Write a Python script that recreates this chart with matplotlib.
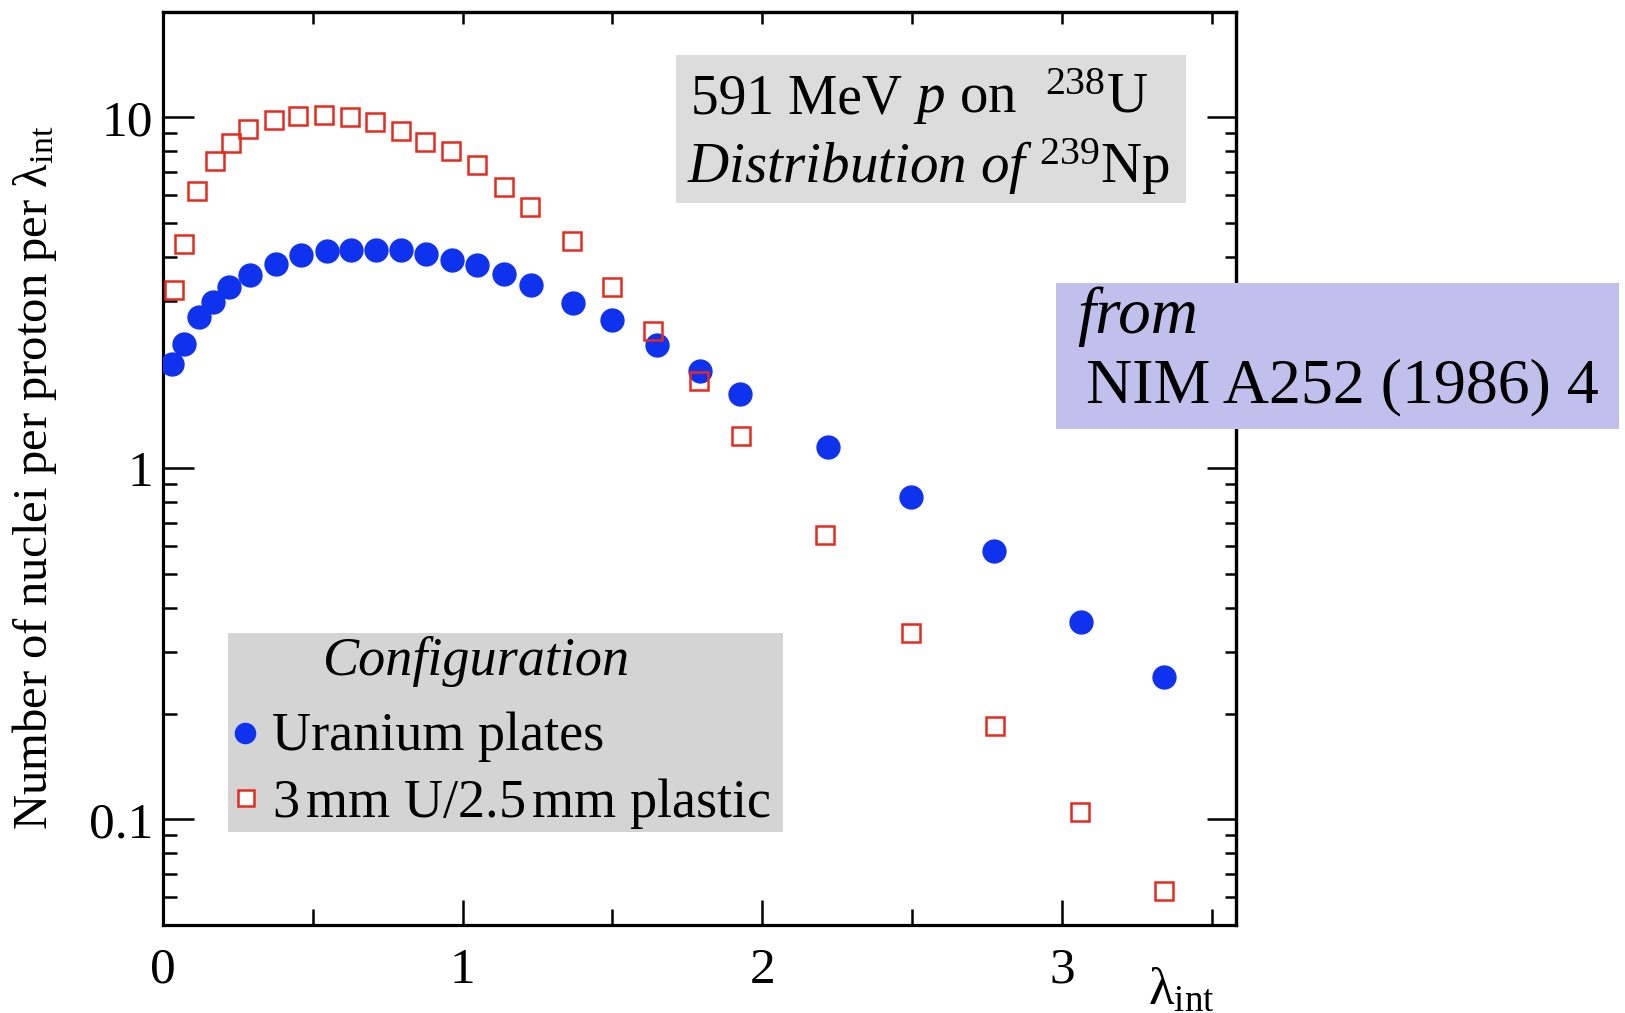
import matplotlib
matplotlib.use("Agg")
import matplotlib.pyplot as plt
import matplotlib.ticker as ticker
from matplotlib.patches import Rectangle
from matplotlib.lines import Line2D

# === data ===
x_plates = [0.031, 0.069, 0.120, 0.168, 0.219, 0.290, 0.376, 0.462, 0.546, 0.628,
            0.711, 0.795, 0.878, 0.963, 1.048, 1.137, 1.227, 1.369, 1.499, 1.648,
            1.793, 1.926, 2.220, 2.496, 2.774, 3.063, 3.341]
y_plates = [1.98, 2.26, 2.70, 2.97, 3.29, 3.56, 3.83, 4.06, 4.15, 4.20,
            4.20, 4.20, 4.07, 3.93, 3.79, 3.58, 3.34, 2.95, 2.64, 2.24,
            1.90, 1.63, 1.153, 0.827, 0.580, 0.366, 0.254]

x_plastic = [0.038, 0.069, 0.115, 0.175, 0.227, 0.285, 0.372, 0.449, 0.536, 0.623,
             0.708, 0.793, 0.876, 0.960, 1.048, 1.139, 1.224, 1.364, 1.500, 1.636,
             1.790, 1.929, 2.209, 2.496, 2.776, 3.062, 3.341]
y_plastic = [3.23, 4.36, 6.16, 7.50, 8.45, 9.26, 9.82, 10.07, 10.15, 10.0,
             9.72, 9.16, 8.52, 8.04, 7.32, 6.35, 5.55, 4.44, 3.29, 2.46,
             1.77, 1.24, 0.644, 0.340, 0.185, 0.105, 0.0626]

series_labels = ["Uranium plates", "3$\\,$mm U/2.5$\\,$mm plastic"]
x_ticks = [0, 1, 2, 3]
y_ticks = [0.1, 1, 10]
y_ticklabels = ["0.1", "1", "10"]

BLUE = "#0f32ee"
RED = "#e62a1e"

plt.rcParams.update({
    "font.family": ["Liberation Serif", "DejaVu Serif"],
    "mathtext.fontset": "custom",
    "mathtext.rm": "Liberation Serif",
    "mathtext.it": "Liberation Serif:italic",
    "mathtext.bf": "Liberation Serif:bold",
})

W, H = 1625, 1013
fig = plt.figure(figsize=(W / 100, H / 100), dpi=100)


def fx(x):
    return x / W


def fy(y):
    return 1 - y / H


ax = fig.add_axes([fx(163), fy(925), (1235.7 - 163) / W, (925 - 11.7) / H])
ax.set_yscale("log")
ax.set_xlim(0, 3.58)
ax.set_ylim(0.05, 20)

ax.plot(x_plates, y_plates, ls="none", marker="o", ms=16.5, color=BLUE, mec=BLUE, zorder=4)
ax.plot(x_plastic, y_plastic, ls="none", marker="s", ms=13, mfc="none", mec=RED,
        mew=1.8, zorder=4)

for sp in ax.spines.values():
    sp.set_linewidth(2.3)

ax.xaxis.set_major_locator(ticker.FixedLocator(x_ticks))
ax.xaxis.set_minor_locator(ticker.FixedLocator([0.5, 1.5, 2.5, 3.5]))
ax.set_xticklabels([str(t) for t in x_ticks])
ax.yaxis.set_major_locator(ticker.FixedLocator(y_ticks))
ax.yaxis.set_minor_locator(ticker.LogLocator(base=10, subs=range(2, 10)))
ax.yaxis.set_minor_formatter(ticker.NullFormatter())
ax.set_yticklabels(y_ticklabels)

ax.tick_params(axis="x", which="major", direction="in", length=18, width=1.8,
               labelsize=37, pad=16)
ax.tick_params(axis="x", which="minor", direction="in", length=11.5, width=1.8)
ax.tick_params(axis="y", which="major", direction="in", length=22, width=1.8,
               labelsize=37, pad=7)
ax.tick_params(axis="y", which="minor", direction="in", length=10, width=1.8)

# top and right tick marks (different lengths, no labels)
top = ax.secondary_xaxis("top")
top.xaxis.set_major_locator(ticker.FixedLocator([0.5, 1, 1.5, 2, 2.5, 3, 3.5]))
top.tick_params(direction="in", length=8.6, width=1.8, labeltop=False)
top.spines["top"].set_linewidth(2.3)

right = ax.secondary_yaxis("right")
right.yaxis.set_major_locator(ticker.FixedLocator(y_ticks))
right.yaxis.set_minor_locator(ticker.LogLocator(base=10, subs=range(2, 10)))
right.yaxis.set_minor_formatter(ticker.NullFormatter())
right.tick_params(which="major", direction="in", length=21, width=1.8, labelright=False)
right.tick_params(which="minor", direction="in", length=8, width=1.8)
right.spines["right"].set_linewidth(2.3)

# axis labels
fig.text(fx(35), fy(478), "Number of nuclei per proton per λ$_{\\mathrm{int}}$",
         rotation=90, ha="center", va="center", fontsize=35)
fig.text(fx(1148), fy(1004), "λ$_{\\mathrm{int}}$", ha="left", va="baseline", fontsize=38)

# info box
fig.patches.append(Rectangle((fx(676), fy(203)), (1186 - 676) / W, (203 - 55) / H,
                             transform=fig.transFigure, facecolor="#dcdcdc",
                             edgecolor="none", zorder=2))
fig.text(fx(691), fy(113), "591 MeV", ha="left", va="baseline", fontsize=40, zorder=3)
fig.text(fx(913), fy(113), "$p$ on  $^{238}$U", ha="left", va="baseline",
         fontsize=41, zorder=3)
fig.text(fx(687), fy(183), "$\\mathit{Distribution\\ of}$ $^{239}$Np", ha="left",
         va="baseline", fontsize=41, zorder=3)

# source box
fig.patches.append(Rectangle((fx(1056), fy(429)), (1619 - 1056) / W, (429 - 283) / H,
                             transform=fig.transFigure, facecolor="#c1c0ec",
                             edgecolor="none", zorder=2))
fig.text(fx(1077), fy(333), "from", style="italic", ha="left", va="baseline",
         fontsize=47, zorder=3)
fig.text(fx(1086), fy(402), "NIM A252 (1986) 4", ha="left", va="baseline",
         fontsize=46, zorder=3)

# legend box
fig.patches.append(Rectangle((fx(228), fy(832)), (783 - 228) / W, (832 - 633) / H,
                             transform=fig.transFigure, facecolor="#d4d4d4",
                             edgecolor="none", zorder=2))
fig.text(fx(477), fy(675), "Configuration", style="italic", ha="center", va="baseline",
         fontsize=39, zorder=3)
fig.lines.append(Line2D([fx(245)], [fy(733)], transform=fig.transFigure, ls="none",
                        marker="o", ms=14.5, color=BLUE, zorder=3))
fig.lines.append(Line2D([fx(246)], [fy(798)], transform=fig.transFigure, ls="none",
                        marker="s", ms=12, mfc="white", mec=RED, mew=1.8, zorder=3))
fig.text(fx(272), fy(750), series_labels[0], ha="left", va="baseline", fontsize=39, zorder=3)
fig.text(fx(272), fy(817), series_labels[1], ha="left", va="baseline", fontsize=39, zorder=3)

fig.savefig("out.png", dpi=100)
